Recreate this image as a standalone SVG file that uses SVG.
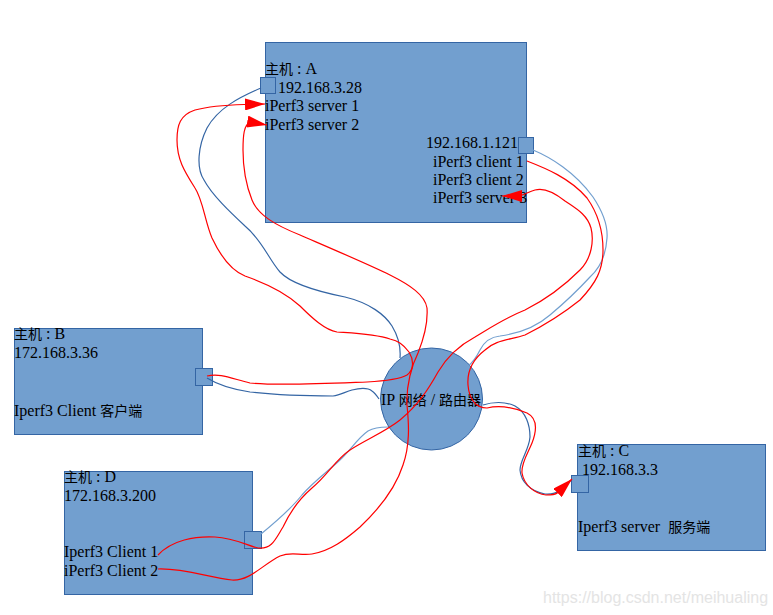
<svg xmlns="http://www.w3.org/2000/svg" width="773" height="615" viewBox="0 0 773 615">
<defs>
<style>
.box{fill:#729fcf;stroke:#3465a4;stroke-width:1}
.t{font-family:"Liberation Serif","Noto Sans CJK SC",serif;font-size:16px;fill:#000;white-space:pre}
.cjk{font-family:"Noto Sans CJK SC",sans-serif;font-size:14px}
.red{fill:none;stroke:#ff0000;stroke-width:1.2}
.blue{fill:none;stroke:#3465a4;stroke-width:1.2}
.lblue{fill:none;stroke:#729fcf;stroke-width:1.2}
.wm{font-family:"Liberation Sans",Arial,sans-serif;font-size:16px;fill:#e4e4e4}
</style>
<marker id="arr" markerUnits="userSpaceOnUse" viewBox="0 0 20 12" refX="20" refY="6" markerWidth="20" markerHeight="12" orient="auto">
<path d="M0,0 L20,6 L0,12 z" fill="#ff0000"/>
</marker>
</defs>
<rect width="773" height="615" fill="#ffffff"/>

<g id="hostA">
<rect class="box" x="265.5" y="42.5" width="261" height="180"/>
<rect class="box" x="260.5" y="77.5" width="15" height="16"/>
<rect class="box" x="518.5" y="137.5" width="15" height="16"/>
<text class="t" x="265" y="74"><tspan class="cjk">主机</tspan> : A</text>
<text class="t" x="278" y="93">192.168.3.28</text>
<text class="t" x="265" y="111">iPerf3 server 1</text>
<text class="t" x="265" y="130">iPerf3 server 2</text>
<text class="t" x="426" y="148">192.168.1.121</text>
<text class="t" x="433" y="167">iPerf3 client 1</text>
<text class="t" x="433" y="185">iPerf3 client 2</text>
<text class="t" x="433" y="203">iPerf3 server 3</text>
</g>

<g id="hostB">
<rect class="box" x="14.5" y="328.5" width="188" height="106"/>
<rect class="box" x="195.5" y="368.5" width="17" height="17"/>
<text class="t" x="14" y="339"><tspan class="cjk">主机</tspan> : B</text>
<text class="t" x="14" y="358">172.168.3.36</text>
<text class="t" x="14" y="416">Iperf3 Client <tspan class="cjk">客户端</tspan></text>
</g>

<g id="hostD">
<rect class="box" x="64.5" y="471.5" width="188" height="123"/>
<rect class="box" x="244.5" y="531.5" width="17" height="17"/>
<text class="t" x="64" y="482"><tspan class="cjk">主机</tspan> : D</text>
<text class="t" x="64" y="501">172.168.3.200</text>
<text class="t" x="64" y="557">Iperf3 Client 1</text>
<text class="t" x="64" y="576">iPerf3 Client 2</text>
</g>

<g id="hostC">
<rect class="box" x="577.5" y="444.5" width="188" height="106"/>
<rect class="box" x="571.5" y="475.5" width="17" height="17"/>
<text class="t" x="578" y="456"><tspan class="cjk">主机</tspan> : C</text>
<text class="t" x="578" y="475"> 192.168.3.3</text>
<text class="t" x="578" y="532">Iperf3 server  <tspan class="cjk">服务端</tspan></text>
</g>

<g id="router">
<circle class="box" cx="431.5" cy="399" r="51"/>
<text class="t" x="381" y="405">IP <tspan class="cjk">网络</tspan> / <tspan class="cjk">路由器</tspan></text>
</g>

<g id="connectors">
<path class="blue" d="M261,88 C240,97 218,108 207,128 C198,146 196,168 204,180 C212,195 230,212 245,226 C262,240 268,258 280,272 C292,285 320,292 345,297 C370,303 385,315 392,326 C398,336 401,346 400,358"/>
<path class="blue" d="M207,378 C215,383 230,389 250,392 C275,395 310,396 333,396 C340,395 345,392 352,390 C360,388 367,387 372,391 C375,393 377,396 379,399"/>
<path class="lblue" d="M261,534 C272,525 290,510 302,495 C315,480 330,470 342,458 C352,448 358,438 368,431 C375,427 382,427 388,427"/>
<path class="lblue" d="M533,150 C550,157 575,172 593,197 C603,212 608,225 607,238 C606,255 600,268 590,277 C578,290 562,305 550,315 C535,328 515,334 500,336 C490,337 484,342 480,350 C476,358 472,363 468,366"/>
<path class="blue" d="M483,405 C492,402 505,401 515,406 C526,412 530,425 530,437 C529,450 520,460 520,470 C521,482 530,491 545,494 C558,495 565,488 571,480"/>

<path class="red" marker-end="url(#arr)" d="M207,376 C220,373 230,378 250,383 C280,386 340,383 367,382 C385,381 400,379 407,375 C414,370 414,360 409,352 C403,344 398,341 390,339 C375,334 350,333 337,332 C325,330 312,318 300,306 C285,292 265,283 245,276 C230,270 220,255 212,238 C205,222 203,200 195,188 C185,172 177,160 177,140 C177,125 180,115 195,110 C210,106 225,105 244,104.5 L265,104"/>
<path class="red" marker-end="url(#arr)" d="M158,569 C185,568 210,578 232,580 C250,581 262,565 280,556 C292,551 300,556 312,554 C330,551 345,540 360,527 C378,510 395,490 403,465 C410,445 409,425 407,405 C406,385 412,365 418,353 C424,338 428,322 427,308 C425,295 410,285 390,275 C370,265 330,248 300,235 C275,225 258,215 252,200 C246,185 243,165 243,150 C243,135 244,125 250,122 L267,125"/>
<path class="red" marker-end="url(#arr)" d="M158,555 C172,540 195,536 215,537 C235,538 248,546 258,548 C272,550 276,538 283,527 C290,512 298,500 312,488 C328,475 335,460 350,450 C365,440 385,432 400,420 C418,405 428,390 438,372 C448,355 460,345 475,337 C490,328 505,318 525,310 C545,300 565,285 580,270 C592,258 594,240 591,228 C587,214 575,208 565,201 C555,193 545,187 535,190 C528,192 522,196 518,196 L502,196"/>
<path class="red" marker-end="url(#arr)" d="M527,161 C545,168 570,178 587,198 C597,212 603,228 603,250 C603,270 596,283 580,300 C565,312 545,325 525,335 C510,340 495,340 485,350 C472,360 467,372 468,385 C469,398 475,408 487,408 C500,405 515,408 527,413 C537,418 537,430 532,443 C528,453 521,463 522,473 C524,485 535,494 546,495 C552,495 555,495 558,492.5 L572,479"/>
</g>

<text class="wm" x="543" y="603">https://blog.csdn.net/meihualing</text>
</svg>
